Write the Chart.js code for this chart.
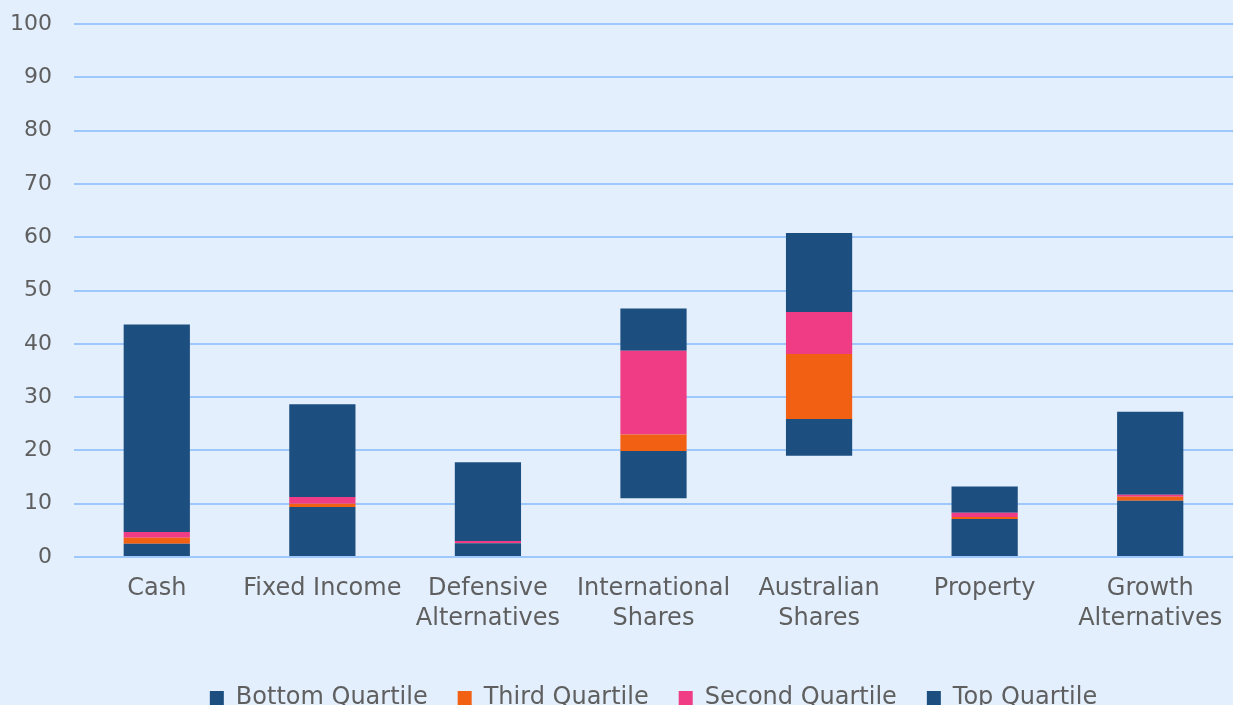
<!DOCTYPE html>
<html>
<head>
<meta charset="utf-8">
<script src="https://cdn.jsdelivr.net/npm/chart.js@4"></script>
<style>
  html, body { margin: 0; padding: 0; background: #e3effd; overflow: hidden; }
  #wrap { position: absolute; left: 0; top: 0; width: 1233px; height: 720px; }
</style>
</head>
<body>
<div id="wrap"><canvas id="quartileChart"></canvas></div>
<script>
// Asset classes along the x axis
var categories = [
    'Cash', 'Fixed Income', ['Defensive', 'Alternatives'], ['International', 'Shares'],
    ['Australian', 'Shares'], 'Property', ['Growth', 'Alternatives']
];

// Invisible floor that each bar floats on
var baseValues = [0, 0, 0, 11.0, 19.0, 0, 0];
var bottomQuartile = [2.5, 9.4, 2.6, 8.9, 6.9, 7.15, 10.55];
var thirdQuartile = [1.1, 0.6, 0.05, 3.1, 12.2, 0.37, 0.75];
var secondQuartile = [1.1, 1.25, 0.35, 15.7, 7.85, 0.76, 0.38];
var topQuartile = [38.9, 17.4, 14.8, 7.9, 14.85, 4.96, 15.57];

var yTicks = [0, 10, 20, 30, 40, 50, 60, 70, 80, 90, 100];

var darkBlue = '#1c4e80';
var orange = '#f26014';
var pink = '#ef3c84';
var textGrey = '#5f5f5f';
var fontName = 'DejaVu Sans';

document.addEventListener('DOMContentLoaded', function () {
    var ctx = document.getElementById('quartileChart').getContext('2d');

    function barSet(label, data, colour) {
        return {
            label: label,
            data: data,
            backgroundColor: colour,
            borderWidth: 0,
            barPercentage: 0.4,
            categoryPercentage: 1.0
        };
    }

    var chart = new Chart(ctx, {
        type: 'bar',
        data: {
            labels: categories,
            datasets: [
                barSet('Base', baseValues, 'rgba(0,0,0,0)'),
                barSet('Bottom Quartile', bottomQuartile, darkBlue),
                barSet('Third Quartile', thirdQuartile, orange),
                barSet('Second Quartile', secondQuartile, pink),
                barSet('Top Quartile', topQuartile, darkBlue)
            ]
        },
        options: {
            responsive: true,
            maintainAspectRatio: false,
            animation: false,
            layout: { padding: 0 },
            plugins: {
                tooltip: { enabled: false },
                legend: {
                    position: 'bottom',
                    fullSize: false,
                    labels: {
                        filter: function (item) { return item.text !== 'Base'; },
                        boxWidth: 14,
                        boxHeight: 14,
                        padding: 30,
                        color: textGrey,
                        font: { family: fontName, size: 24 }
                    }
                }
            },
            scales: {
                x: {
                    stacked: true,
                    grid: { display: false },
                    border: { display: false },
                    afterFit: function (scale) { scale.height = 99; },
                    ticks: {
                        color: textGrey,
                        font: { family: fontName, size: 24, lineHeight: 1.25 },
                        maxRotation: 0,
                        padding: 9
                    }
                },
                y: {
                    stacked: true,
                    min: 0,
                    max: 100,
                    afterBuildTicks: function (axis) {
                        axis.ticks = yTicks.map(function (v) { return { value: v }; });
                    },
                    afterFit: function (scale) {
                        scale.width = 74;
                        scale.paddingTop = 24;
                        scale.paddingBottom = 12;
                    },
                    grid: { color: '#9dc8fb', lineWidth: 2, drawTicks: false },
                    border: { display: false },
                    ticks: {
                        color: textGrey,
                        font: { family: fontName, size: 22 },
                        padding: 22
                    }
                }
            }
        }
    });
});
</script>
</body>
</html>
